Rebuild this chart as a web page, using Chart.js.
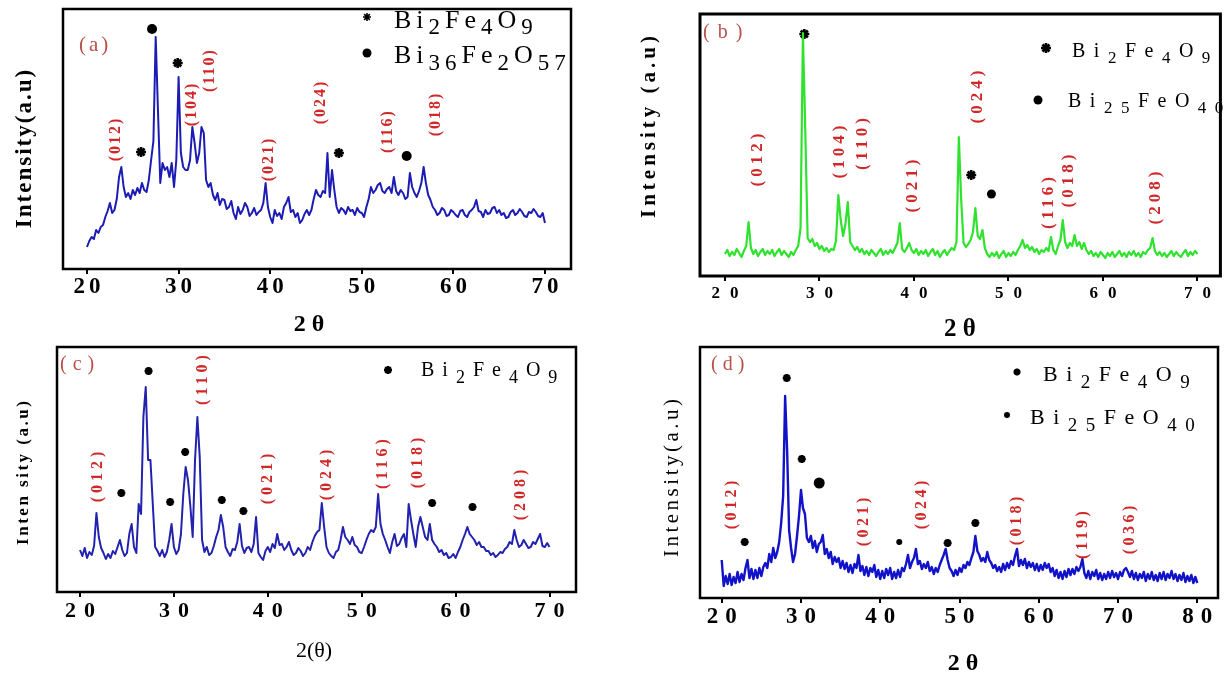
<!DOCTYPE html>
<html>
<head>
<meta charset="utf-8">
<script src="https://cdn.jsdelivr.net/npm/chart.js@4.4.1/dist/chart.umd.min.js"></script>
<style>
html, body { margin: 0; padding: 0; background: #fff; }
#wrap { position: relative; width: 1228px; height: 677px; overflow: hidden; background: #fff; }
#wrap canvas { position: absolute; }
</style>
</head>
<body>
<div id="wrap">
    <canvas id="chartA" width="614" height="340" style="left:0;top:0"></canvas>
    <canvas id="chartB" width="614" height="345" style="left:614px;top:0"></canvas>
    <canvas id="chartC" width="614" height="342" style="left:0;top:335px"></canvas>
    <canvas id="chartD" width="614" height="337" style="left:614px;top:340px"></canvas>
</div>
<script>
// 2-theta grid of every pattern: first angle and step (degrees)
const thetaStart = 20;
const thetaStep = 0.25;

// (a) intensity, 20..70 deg
const intensityA = [
    64, 70, 74, 72, 81, 78, 84, 86, 94, 100, 108, 98, 101, 112, 134, 144, 124, 114, 118, 112,
    121, 116, 123, 118, 128, 121, 119, 131, 151, 170, 274, 200, 128, 148, 141, 144, 134, 148, 124, 151,
    234, 158, 144, 141, 141, 151, 184, 168, 148, 158, 184, 178, 131, 124, 128, 116, 111, 118, 106, 112,
    111, 102, 104, 110, 98, 92, 104, 97, 101, 108, 104, 95, 98, 103, 96, 99, 101, 108, 128, 104,
    94, 88, 101, 95, 98, 92, 104, 108, 114, 99, 101, 94, 98, 88, 91, 97, 101, 96, 101, 112,
    121, 116, 114, 120, 118, 158, 114, 141, 121, 104, 98, 103, 101, 97, 104, 100, 101, 96, 103, 99,
    98, 94, 104, 112, 124, 118, 121, 126, 128, 120, 118, 122, 124, 118, 134, 120, 116, 121, 118, 112,
    114, 138, 124, 118, 114, 120, 128, 144, 128, 116, 111, 104, 101, 96, 98, 103, 101, 95, 96, 101,
    99, 96, 94, 100, 101, 96, 94, 99, 101, 104, 111, 100, 99, 94, 101, 97, 98, 103, 104, 98,
    101, 96, 98, 93, 94, 99, 101, 96, 98, 102, 99, 95, 94, 99, 98, 102, 99, 95, 94, 98,
    88
];

// (b) intensity, 20..70 deg
const intensityB = [
    22, 26, 20, 24, 21, 27, 23, 19, 25, 30, 54, 28, 22, 26, 20, 24, 27, 21, 25, 22,
    26, 20, 24, 27, 21, 25, 22, 19, 24, 21, 26, 30, 48, 243, 146, 38, 34, 37, 30, 33,
    27, 30, 25, 28, 24, 27, 26, 35, 81, 56, 40, 52, 74, 34, 30, 26, 29, 24, 27, 22,
    25, 21, 26, 23, 20, 24, 27, 21, 25, 22, 26, 23, 28, 33, 53, 27, 24, 28, 33, 26,
    23, 27, 21, 25, 22, 26, 20, 24, 27, 21, 25, 19, 23, 26, 21, 25, 28, 26, 34, 139,
    76, 33, 29, 32, 36, 44, 68, 40, 37, 46, 28, 22, 19, 23, 20, 24, 18, 22, 25, 19,
    23, 20, 24, 21, 26, 30, 36, 28, 31, 26, 29, 24, 27, 22, 26, 24, 28, 25, 39, 26,
    22, 30, 36, 56, 34, 28, 33, 30, 41, 30, 34, 27, 33, 26, 22, 25, 20, 23, 19, 24,
    21, 18, 23, 20, 24, 19, 22, 25, 20, 23, 19, 24, 21, 25, 20, 23, 19, 24, 22, 26,
    28, 38, 25, 21, 24, 20, 23, 19, 22, 25, 20, 24, 21, 19, 23, 26, 20, 24, 21, 25,
    22
];

// (c) intensity, 20..70 deg
const intensityC = [
    42, 36, 44, 34, 40, 37, 46, 79, 55, 44, 39, 33, 38, 34, 41, 38, 45, 52, 42, 36,
    39, 58, 68, 45, 39, 88, 78, 175, 205, 132, 132, 88, 45, 41, 36, 42, 35, 40, 52, 68,
    45, 38, 42, 58, 98, 125, 112, 86, 55, 132, 175, 135, 52, 40, 45, 37, 39, 46, 55, 62,
    77, 65, 45, 40, 36, 43, 42, 50, 68, 46, 39, 44, 45, 40, 48, 75, 39, 35, 32, 41,
    45, 40, 48, 44, 58, 47, 48, 42, 45, 50, 42, 37, 39, 44, 41, 36, 39, 45, 42, 50,
    56, 60, 62, 89, 65, 45, 39, 36, 34, 40, 42, 52, 65, 55, 52, 48, 55, 47, 45, 40,
    39, 45, 52, 58, 62, 60, 65, 98, 68, 58, 52, 45, 39, 50, 58, 46, 48, 54, 58, 45,
    88, 72, 58, 45, 65, 75, 65, 55, 52, 68, 52, 48, 45, 40, 42, 37, 39, 34, 35, 38,
    34, 40, 45, 52, 58, 65, 58, 55, 52, 47, 50, 45, 45, 41, 41, 37, 39, 35, 37, 40,
    39, 43, 45, 50, 48, 62, 52, 45, 47, 52, 48, 44, 45, 50, 48, 53, 58, 46, 45, 49,
    45
];

// (d) intensity, 20..80 deg
const intensityD = [
    38, 12, 22, 14, 24, 13, 21, 15, 26, 16, 24, 18, 30, 38, 20, 29, 19, 28, 20, 30,
    22, 31, 35, 30, 44, 36, 50, 40, 46, 56, 75, 102, 202, 148, 68, 50, 36, 44, 62, 82,
    108, 90, 84, 60, 56, 62, 50, 57, 46, 54, 56, 63, 44, 49, 40, 46, 34, 41, 36, 40,
    30, 37, 29, 35, 26, 33, 25, 34, 30, 43, 27, 32, 23, 31, 22, 30, 26, 33, 21, 28,
    19, 27, 20, 29, 23, 30, 19, 26, 20, 28, 21, 30, 27, 34, 43, 30, 36, 40, 49, 34,
    37, 29, 34, 30, 36, 27, 31, 24, 30, 26, 33, 38, 43, 49, 38, 30, 27, 22, 28, 23,
    30, 26, 33, 30, 36, 33, 40, 46, 62, 47, 43, 37, 40, 36, 46, 38, 35, 30, 33, 27,
    31, 26, 34, 28, 35, 30, 37, 33, 42, 49, 32, 38, 33, 39, 30, 36, 31, 35, 28, 34,
    27, 33, 28, 35, 30, 34, 26, 30, 22, 28, 20, 26, 19, 27, 21, 29, 23, 29, 24, 31,
    27, 31, 39, 25, 20, 27, 19, 26, 22, 28, 19, 25, 18, 24, 19, 26, 20, 27, 21, 25,
    19, 26, 22, 28, 30, 26, 21, 27, 19, 25, 18, 24, 20, 26, 17, 24, 19, 26, 18, 23,
    17, 25, 19, 26, 18, 24, 20, 27, 19, 24, 17, 23, 18, 25, 16, 22, 17, 23, 15, 21,
    15
];

// x tick labels
const tickLabels70 = [20, 30, 40, 50, 60, 70];
const tickLabels80 = [20, 30, 40, 50, 60, 70, 80];

// Miller indices: text, 2-theta, height of label centre
const hklA = ["(012)", "(104)", "(110)", "(021)", "(024)", "(116)", "(018)"];
const hklThetaA = [23.2, 31.4, 33.4, 39.8, 45.5, 52.9, 58.1];
const hklLevelA = [171, 206, 240, 151, 208, 179, 196];

const hklB = ["(012)", "(104)", "(110)", "(021)", "(024)", "(116)", "(018)", "(208)"];
const hklThetaB = [23.5, 32.1, 34.6, 39.9, 46.75, 54.3, 56.4, 65.6];
const hklLevelB = [116, 124, 132, 90, 179, 73, 95, 78];

const hklC = ["(012)", "(110)", "(021)", "(024)", "(116)", "(018)", "(208)"];
const hklThetaC = [21.95, 33.1, 40.05, 46.3, 52.3, 56.0, 66.9];
const hklLevelC = [115, 212, 113, 117, 128, 129, 97];

const hklD = ["(012)", "(021)", "(024)", "(018)", "(119)", "(036)"];
const hklThetaD = [21.3, 37.9, 45.3, 57.2, 65.6, 71.5];
const hklLevelD = [93, 76, 93, 77, 63, 68];

// phase markers (star = Bi2Fe4O9, dot = second phase)
const starThetaA = [25.9, 29.9, 47.5];
const starLevelA = [159, 248, 158];
const dotThetaA = [27.1, 54.9];
const dotLevelA = [282, 155];

const starThetaB = [28.4, 46.06];
const starLevelB = [242, 101];
const dotThetaB = [48.2];
const dotLevelB = [82];

const starThetaC = [24.4, 27.3, 29.6, 31.2, 35.1, 37.4, 57.5, 61.8];
const starLevelC = [99, 221, 90, 140, 92, 81, 89, 85];

const starThetaD = [22.9, 28.2, 30.1, 48.5, 52.0];
const starLevelD = [56, 220, 139, 55, 75];
const dotThetaD = [32.3, 42.4];
const dotLevelD = [115, 56];

const SERIF = '"Liberation Serif", "Times New Roman", serif';
const HKL_RED = "#d02828";
const TAG_RED = "#b8504a";

function toPoints(values) {
    return values.map((v, i) => ({ x: thetaStart + i * thetaStep, y: v }));
}

function pair(thetas, levels) {
    return thetas.map((t, i) => ({ x: t, y: levels[i] }));
}

// legend symbols
function drawStarSymbol(ctx, x, y, r, w) {
    ctx.save();
    ctx.strokeStyle = "#000";
    ctx.lineWidth = w;
    ctx.beginPath();
    for (let k = 0; k < 4; k++) {
        const a = k * Math.PI / 4;
        ctx.moveTo(x - r * Math.cos(a), y - r * Math.sin(a));
        ctx.lineTo(x + r * Math.cos(a), y + r * Math.sin(a));
    }
    ctx.stroke();
    ctx.restore();
}

function drawDotSymbol(ctx, x, y, r) {
    ctx.save();
    ctx.fillStyle = "#000";
    ctx.beginPath();
    ctx.arc(x, y, r, 0, Math.PI * 2);
    ctx.fill();
    ctx.restore();
}

// chemical formula with subscripts
function drawFormula(ctx, parts, x, y, line) {
    ctx.fillStyle = "#000";
    ctx.textAlign = "left";
    ctx.textBaseline = "alphabetic";
    ctx.letterSpacing = line.spacing + "px";
    parts.forEach(([txt, sub]) => {
        ctx.font = (sub ? line.sub : line.size) + "px " + SERIF;
        ctx.fillText(txt, x, y + (sub ? line.drop : 0));
        x += ctx.measureText(txt).width;
    });
}

function rotatedText(ctx, text, x, y, spacing) {
    ctx.save();
    ctx.translate(x, y);
    ctx.rotate(-Math.PI / 2);
    ctx.textAlign = "center";
    ctx.textBaseline = "middle";
    ctx.letterSpacing = spacing + "px";
    ctx.fillText(text, spacing / 2, 0);
    ctx.restore();
}

function makeDecor(p) {
    return {
        id: "decor" + p.id,
        afterDatasetsDraw(chart) {
            const ctx = chart.ctx;
            const xs = chart.scales.x;
            const ys = chart.scales.y;
            const area = chart.chartArea;
            ctx.save();

            // frame
            ctx.strokeStyle = "#000";
            ctx.lineWidth = p.frameWidth;
            ctx.strokeRect(area.left, area.top, area.right - area.left, area.bottom - area.top);

            // tick labels
            ctx.fillStyle = "#000";
            ctx.font = p.tick.font + " " + SERIF;
            ctx.letterSpacing = p.tick.spacing + "px";
            ctx.textAlign = "center";
            ctx.textBaseline = "middle";
            p.tickLabels.forEach(v => {
                ctx.fillText(String(v), xs.getPixelForValue(v) + p.tick.spacing / 2, p.tick.y);
            });

            // axis titles
            ctx.font = p.xTitle.font + " " + SERIF;
            ctx.letterSpacing = "0px";
            ctx.fillText(p.xTitle.text, p.xTitle.x, p.xTitle.y);
            ctx.font = p.yTitle.font + " " + SERIF;
            rotatedText(ctx, p.yTitle.text, p.yTitle.x, p.yTitle.y, p.yTitle.spacing);

            // panel tag
            ctx.fillStyle = TAG_RED;
            ctx.font = p.tag.font + " " + SERIF;
            ctx.letterSpacing = p.tag.spacing + "px";
            ctx.textAlign = "left";
            ctx.fillText(p.tag.text, p.tag.x, p.tag.y);

            // Miller indices
            ctx.fillStyle = HKL_RED;
            ctx.font = p.hklFont + " " + SERIF;
            p.hkl.forEach((s, i) => {
                rotatedText(ctx, s, xs.getPixelForValue(p.hklTheta[i]), ys.getPixelForValue(p.hklLevel[i]), p.hklSpacing);
            });

            // legend
            p.legend.forEach(line => {
                if (line.sym === "star") drawStarSymbol(ctx, line.sx, line.sy, line.r, line.w);
                else drawDotSymbol(ctx, line.sx, line.sy, line.r);
                drawFormula(ctx, line.parts, line.x, line.y, line);
            });
            ctx.restore();
        }
    };
}

const BFO = [["Bi", 0], ["2", 1], ["Fe", 0], ["4", 1], ["O", 0], ["9", 1]];
const B36 = [["Bi", 0], ["36", 1], ["Fe", 0], ["2", 1], ["O", 0], ["57", 1]];
const B25 = [["Bi", 0], ["25", 1], ["FeO", 0], ["40", 1]];

const panels = [
    {
        id: "chartA", width: 614, height: 340,
        frame: { left: 63, top: 9, right: 571, bottom: 269 }, frameWidth: 2.5,
        xMin: 17.38, xMax: 72.84, yMin: 42, yMax: 302,
        values: intensityA, color: "#1c1cb4", lineWidth: 2, tickLabels: tickLabels70,
        hkl: hklA, hklTheta: hklThetaA, hklLevel: hklLevelA, hklFont: "bold 16px", hklSpacing: 2,
        stars: pair(starThetaA, starLevelA), starRadius: 5,
        dots: pair(dotThetaA, dotLevelA), dotRadius: [5, 5],
        tick: { font: "bold 23px", spacing: 4, y: 287 },
        xTitle: { text: "2 \u03b8", font: "bold 24px", x: 309, y: 325 },
        yTitle: { text: "Intensity(a.u)", font: "bold 23px", x: 25, y: 149, spacing: 2 },
        tag: { text: "(a)", font: "21px", spacing: 3, x: 79, y: 45 },
        legend: [
            { sym: "star", sx: 367, sy: 17, r: 4, w: 1.6, x: 394, y: 28, parts: BFO, size: 26, sub: 23, drop: 6, spacing: 5 },
            { sym: "dot", sx: 367, sy: 53, r: 4.5, x: 394, y: 63, parts: B36, size: 26, sub: 23, drop: 7, spacing: 5 }
        ]
    },
    {
        id: "chartB", width: 614, height: 345,
        frame: { left: 86, top: 14, right: 607, bottom: 276 }, frameWidth: 3,
        xMin: 17.36, xMax: 72.43, yMin: 0, yMax: 262,
        values: intensityB, color: "#2ee22e", lineWidth: 2.2, tickLabels: tickLabels70,
        hkl: hklB, hklTheta: hklThetaB, hklLevel: hklLevelB, hklFont: "bold 17px", hklSpacing: 4,
        stars: pair(starThetaB, starLevelB), starRadius: 5,
        dots: pair(dotThetaB, dotLevelB), dotRadius: [4.5],
        tick: { font: "bold 17px", spacing: 10, y: 294 },
        xTitle: { text: "2 \u03b8", font: "bold 25px", x: 346, y: 330 },
        yTitle: { text: "Intensity (a.u)", font: "bold 21px", x: 36, y: 127, spacing: 4 },
        tag: { text: "(b)", font: "20px", spacing: 8, x: 89, y: 33 },
        legend: [
            { sym: "star", sx: 432, sy: 48, r: 5, w: 2.6, x: 458, y: 57, parts: BFO, size: 20, sub: 17, drop: 6, spacing: 8.5 },
            { sym: "dot", sx: 424, sy: 100, r: 4.5, x: 454, y: 107, parts: B25, size: 20, sub: 17, drop: 6, spacing: 8.5 }
        ]
    },
    {
        id: "chartC", width: 614, height: 342,
        frame: { left: 57, top: 12, right: 576, bottom: 257 }, frameWidth: 2.5,
        xMin: 17.55, xMax: 72.82, yMin: 0, yMax: 245,
        values: intensityC, color: "#2222ae", lineWidth: 2, tickLabels: tickLabels70,
        hkl: hklC, hklTheta: hklThetaC, hklLevel: hklLevelC, hklFont: "bold 16px", hklSpacing: 4,
        stars: pair(starThetaC, starLevelC), starRadius: 4,
        dots: [], dotRadius: [],
        tick: { font: "bold 22px", spacing: 8, y: 276 },
        xTitle: { text: "2(\u03b8)", font: "22px", x: 314, y: 316 },
        yTitle: { text: "Inten sity (a.u)", font: "bold 17px", x: 24, y: 138, spacing: 2.5 },
        tag: { text: "(c)", font: "20px", spacing: 6, x: 60, y: 30 },
        legend: [
            { sym: "star", sx: 388, sy: 35, r: 4, w: 2.4, x: 421, y: 41, parts: BFO, size: 20, sub: 18, drop: 7, spacing: 8 }
        ]
    },
    {
        id: "chartD", width: 614, height: 337,
        frame: { left: 86, top: 7, right: 604, bottom: 258 }, frameWidth: 2.5,
        xMin: 17.26, xMax: 82.61, yMin: 0, yMax: 251,
        values: intensityD, color: "#1212c8", lineWidth: 2.4, tickLabels: tickLabels80,
        hkl: hklD, hklTheta: hklThetaD, hklLevel: hklLevelD, hklFont: "bold 16px", hklSpacing: 3.5,
        stars: pair(starThetaD, starLevelD), starRadius: 4,
        dots: pair(dotThetaD, dotLevelD), dotRadius: [5.5, 3],
        tick: { font: "bold 23px", spacing: 7, y: 277 },
        xTitle: { text: "2 \u03b8", font: "bold 24px", x: 349, y: 324 },
        yTitle: { text: "Intensity(a.u)", font: "21px", x: 58, y: 138, spacing: 3.5 },
        tag: { text: "(d)", font: "20px", spacing: 5, x: 97, y: 25 },
        legend: [
            { sym: "star", sx: 403, sy: 32, r: 3.5, w: 2.4, x: 429, y: 41, parts: BFO, size: 22, sub: 19, drop: 7, spacing: 8.5 },
            { sym: "dot", sx: 393, sy: 75, r: 3, x: 416, y: 84, parts: B25, size: 22, sub: 19, drop: 7, spacing: 8.5 }
        ]
    }
];

panels.forEach(p => {
    const ctx = document.getElementById(p.id).getContext("2d");
    new Chart(ctx, {
        type: "line",
        data: {
            datasets: [
                {
                    data: toPoints(p.values),
                    borderColor: p.color,
                    borderWidth: p.lineWidth,
                    borderJoinStyle: "round",
                    pointRadius: 0,
                    tension: 0,
                    fill: false,
                },
                {
                    data: p.stars,
                    showLine: false,
                    pointStyle: "star",
                    pointRadius: p.starRadius,
                    borderColor: "#000",
                    backgroundColor: "#000",
                    pointBorderWidth: 2.6,
                    clip: false,
                },
                {
                    data: p.dots,
                    showLine: false,
                    pointStyle: "circle",
                    pointRadius: p.dotRadius,
                    borderColor: "#000",
                    backgroundColor: "#000",
                    pointBorderWidth: 0,
                    clip: false,
                },
            ],
        },
        options: {
            responsive: false,
            animation: false,
            layout: {
                padding: {
                    left: p.frame.left,
                    top: p.frame.top,
                    right: p.width - p.frame.right,
                    bottom: 0,
                },
            },
            scales: {
                x: {
                    type: "linear",
                    min: p.xMin,
                    max: p.xMax,
                    ticks: { display: false, stepSize: 10, includeBounds: false },
                    grid: { display: true, drawOnChartArea: false, drawTicks: true, tickLength: 5, color: "#000", lineWidth: 2 },
                    border: { display: false },
                    afterFit: s => { s.height = p.height - p.frame.bottom; },
                },
                y: {
                    type: "linear",
                    display: false,
                    min: p.yMin,
                    max: p.yMax,
                },
            },
            plugins: {
                legend: { display: false },
                tooltip: { enabled: false },
            },
        },
        plugins: [makeDecor(p)],
    });
});
</script>
</body>
</html>
